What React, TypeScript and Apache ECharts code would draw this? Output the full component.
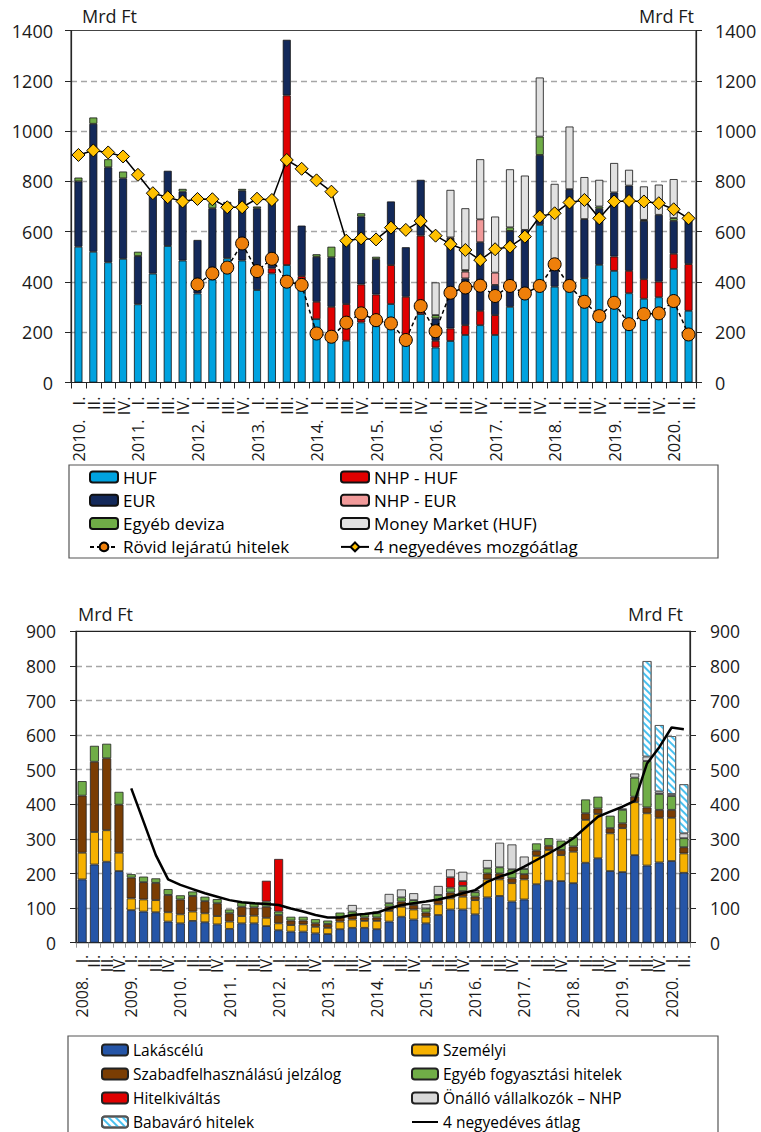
import React, { useEffect, useRef } from "react";
import * as echarts from "echarts";

const FONT = "'Open Sans', 'Noto Sans', sans-serif";
const QUARTERS = ["I.", "II.", "III.", "IV."];

function quarterLabels(count: number): string[] {
  const out: string[] = [];
  for (let i = 0; i < count; i++) out.push(QUARTERS[i % 4]);
  return out;
}
function yearLabels(startYear: number, count: number): string[] {
  const out: string[] = [];
  for (let i = 0; i < count; i++) out.push(i % 4 === 0 ? `${startYear + i / 4}.` : "");
  return out;
}

// ---------- Top chart (2010 I. – 2020 II.) ----------
const topCategories = quarterLabels(42);
const topYears = yearLabels(2010, 42);
const topHUF = [540, 520, 478, 492, 311, 433, 543, 485, 354, 410, 494, 485, 368, 434, 467, 410, 252, 162, 166, 239, 224, 312, 175, 272, 139, 165, 189, 228, 189, 301, 340, 627, 381, 395, 415, 468, 444, 355, 333, 339, 452, 285];
const topNHPHUF = [0, 0, 0, 0, 0, 0, 0, 0, 0, 0, 0, 0, 0, 20, 675, 13, 69, 139, 146, 151, 126, 155, 166, 312, 27, 50, 39, 57, 79, 0, 0, 0, 0, 0, 0, 0, 57, 89, 78, 62, 60, 186];
const topEUR = [260, 509, 378, 320, 192, 313, 299, 274, 213, 283, 224, 278, 325, 272, 221, 201, 179, 197, 244, 270, 141, 253, 197, 222, 89, 356, 186, 273, 120, 302, 267, 278, 109, 374, 235, 223, 255, 339, 232, 266, 131, 176];
const topNHPEUR = [0, 0, 0, 0, 0, 0, 0, 0, 0, 0, 0, 0, 0, 0, 0, 0, 0, 0, 0, 0, 0, 0, 0, 0, 0, 6, 27, 91, 49, 0, 0, 0, 0, 0, 0, 0, 0, 0, 0, 0, 0, 0];
const topOtherFX = [15, 25, 32, 27, 17, 0, 0, 11, 0, 20, 0, 7, 7, 0, 0, 0, 10, 42, 0, 13, 9, 0, 0, 0, 13, 0, 6, 0, 0, 14, 0, 73, 0, 0, 0, 9, 0, 0, 4, 0, 11, 0];
const topMoneyMarket = [0, 0, 0, 0, 0, 0, 0, 0, 0, 0, 0, 0, 0, 0, 0, 0, 0, 0, 0, 0, 0, 0, 0, 0, 130, 189, 246, 239, 223, 231, 216, 235, 300, 249, 167, 106, 117, 63, 133, 120, 155, 0];
const topShortTerm = [null, null, null, null, null, null, null, null, 390, 434, 457, 553, 443, 492, 401, 388, 195, 182, 238, 275, 248, 235, 169, 304, 204, 357, 378, 385, 344, 384, 354, 384, 470, 384, 321, 264, 317, 232, 272, 275, 324, 191];
const topMovingAvg = [905, 923, 915, 899, 826, 753, 737, 720, 730, 729, 697, 697, 731, 726, 885, 850, 804, 759, 564, 573, 569, 616, 607, 642, 584, 550, 527, 487, 530, 540, 580, 660, 673, 716, 726, 653, 720, 722, 720, 713, 689, 653];

// ---------- Bottom chart (2008 I. – 2020 II.) ----------
const botCategories = quarterLabels(50);
const botYears = yearLabels(2008, 50);
const botHousing = [183, 226, 234, 207, 94, 90, 88, 61, 56, 63, 59, 53, 40, 56, 56, 48, 36, 32, 32, 27, 25, 39, 43, 43, 39, 61, 75, 67, 56, 80, 96, 96, 82, 131, 135, 119, 125, 169, 179, 178, 172, 231, 244, 207, 204, 253, 223, 232, 236, 202];
const botPersonal = [77, 94, 91, 53, 34, 35, 35, 27, 26, 27, 26, 24, 21, 21, 22, 24, 20, 19, 21, 19, 18, 22, 24, 20, 24, 31, 29, 29, 19, 31, 32, 37, 41, 52, 48, 53, 58, 82, 89, 75, 91, 124, 128, 109, 127, 153, 151, 129, 125, 56];
const botFreeMortgage = [165, 203, 208, 139, 60, 50, 50, 50, 43, 45, 35, 37, 24, 27, 24, 32, 24, 13, 11, 10, 11, 14, 13, 10, 10, 12, 15, 13, 12, 12, 17, 16, 10, 17, 17, 14, 15, 15, 12, 15, 15, 19, 16, 15, 14, 16, 17, 23, 23, 18];
const botOtherConsumer = [42, 46, 42, 37, 10, 16, 13, 17, 12, 13, 13, 12, 11, 13, 12, 15, 10, 11, 11, 12, 10, 12, 10, 12, 12, 10, 12, 14, 12, 15, 14, 15, 13, 15, 18, 26, 15, 21, 22, 27, 27, 40, 34, 36, 39, 55, 134, 46, 40, 26];
const botRefinancing = [0, 0, 0, 0, 0, 0, 0, 0, 0, 0, 0, 0, 0, 0, 0, 60, 152, 0, 0, 0, 0, 0, 0, 0, 0, 0, 0, 0, 0, 0, 30, 14, 0, 0, 0, 0, 0, 0, 0, 0, 0, 0, 0, 0, 0, 0, 0, 0, 0, 0];
const botSoleProp = [0, 0, 0, 0, 0, 0, 0, 0, 0, 0, 0, 0, 0, 0, 0, 0, 0, 0, 0, 0, 0, 0, 19, 0, 5, 27, 23, 20, 12, 26, 23, 27, 6, 24, 71, 72, 36, 0, 0, 0, 0, 0, 0, 0, 4, 12, 13, 7, 6, 14];
const botBabyLoan = [0, 0, 0, 0, 0, 0, 0, 0, 0, 0, 0, 0, 0, 0, 0, 0, 0, 0, 0, 0, 0, 0, 0, 0, 0, 0, 0, 0, 0, 0, 0, 0, 0, 0, 0, 0, 0, 0, 0, 0, 0, 0, 0, 0, 0, 0, 276, 192, 167, 142];
const botAvg4 = [null, null, null, null, 446, 350, 253, 183, 167, 155, 143, 133, 123, 117, 114, 112, 109, 99, 90, 80, 73, 73, 80, 83, 87, 99, 109, 114, 119, 125, 133, 143, 152, 176, 191, 202, 220, 239, 258, 278, 302, 333, 364, 379, 393, 410, 518, 565, 622, 617];

const topTicks = [0, 1400, 200];
const botTicks = [0, 900, 100];

const nz = (arr: number[]) => arr.map((v) => (v === 0 ? "-" : v));

export default function App() {
  const ref = useRef<HTMLDivElement>(null);
  useEffect(() => {
    if (!ref.current) return;
    const chart = echarts.init(ref.current, null, { renderer: "svg" });
    const gridGray = "#A6A6A6";
    const splitColorsTop = ["transparent", gridGray, gridGray, gridGray, gridGray, gridGray, gridGray, "transparent"];
    const splitColorsBot = ["transparent", gridGray, gridGray, gridGray, gridGray, gridGray, gridGray, gridGray, gridGray, "transparent"];

    const yAxisBase = (gridIndex: number, ticks: number[], pos: "left" | "right", fs: number, margin: number, splitColors: string[], showSplit: boolean) => ({
      type: "value",
      gridIndex,
      position: pos,
      min: ticks[0],
      max: ticks[1],
      interval: ticks[2],
      axisLine: { show: true, lineStyle: { color: "#262626", width: 1.2 } },
      axisTick: { show: true, length: 6, inside: false, lineStyle: { color: "#262626" } },
      axisLabel: { fontSize: fs, color: "#1a1a1a", fontFamily: FONT, margin, formatter: (v: number) => String(v) },
      splitLine: showSplit ? { show: true, lineStyle: { color: splitColors, type: [6, 4], width: 1.3 } } : { show: false },
    });

    const quarterAxis = (gridIndex: number, data: string[], fs: number, margin: number, tickColor: string, tickLen: number) => ({
      type: "category", gridIndex, data, boundaryGap: true, position: "bottom",
      axisLine: { lineStyle: { color: "#262626", width: 1.2 } },
      axisTick: { show: true, length: tickLen, interval: 0, alignWithLabel: false, lineStyle: { color: tickColor } },
      axisLabel: { interval: 0, rotate: 90, fontSize: fs, color: "#1a1a1a", fontFamily: FONT, margin },
    });
    const yearAxis = (gridIndex: number, data: string[], fs: number, margin: number) => ({
      type: "category", gridIndex, data, boundaryGap: true, position: "bottom",
      axisLine: { show: false }, axisTick: { show: false },
      axisLabel: { interval: 0, rotate: 90, fontSize: fs, color: "#1a1a1a", fontFamily: FONT, margin },
    });

    const barStyleTop = (color: string) => ({ color, borderColor: "#111", borderWidth: 0.8 });
    const barStyleBot = (color: string) => ({ color, borderColor: "#222", borderWidth: 0.8 });

    const topBar = (name: string, data: number[], color: string, extra: any = {}) => ({
      name, type: "bar", stack: "top", xAxisIndex: 0, yAxisIndex: 0, barWidth: 8,
      data: nz(data), itemStyle: { ...barStyleTop(color), ...extra },
    });
    const botBar = (name: string, data: number[], color: string, extra: any = {}) => ({
      name, type: "bar", stack: "bot", xAxisIndex: 2, yAxisIndex: 2, barWidth: 9,
      data: nz(data), itemStyle: { ...barStyleBot(color), ...extra },
    });

    const legendCommon = (fs: number, lh: number, iw: number) => ({
      orient: "vertical",
      padding: 0,
      itemWidth: iw,
      itemHeight: 11,
      selectedMode: false,
      textStyle: { fontSize: fs, color: "#000", fontFamily: FONT, lineHeight: lh },
    });

    chart.setOption({
      animation: false,
      grid: [
        { left: 71, top: 30.5, width: 625, height: 352, show: true, borderColor: "#444", borderWidth: 1.2, containLabel: false },
        { left: 76, top: 631.3, width: 614, height: 311.4, show: true, borderColor: "#222", borderWidth: 1.2, containLabel: false },
      ],
      xAxis: [
        quarterAxis(0, topCategories, 16.5, 14, "#262626", 6),
        yearAxis(0, topYears, 16.5, 37),
        quarterAxis(1, botCategories, 16, 12, "#999", 5),
        yearAxis(1, botYears, 16, 34),
      ],
      yAxis: [
        yAxisBase(0, topTicks, "left", 18, 18, splitColorsTop, true),
        yAxisBase(0, topTicks, "right", 18, 19, splitColorsTop, false),
        yAxisBase(1, botTicks, "left", 17.5, 20, splitColorsBot, true),
        yAxisBase(1, botTicks, "right", 17.5, 20, splitColorsBot, false),
      ],
      legend: [
        { ...legendCommon(17, 17, 28), left: 89, top: 468.5, itemGap: 6.3, data: ["HUF", "EUR", "Egyéb deviza", "Rövid lejáratú hitelek"] },
        { ...legendCommon(17, 17, 28), left: 340, top: 468.5, itemGap: 6.3, data: ["NHP - HUF", "NHP - EUR", "Money Market (HUF)", "4 negyedéves mozgóátlag"] },
        { ...legendCommon(15.5, 17, 26), left: 101, top: 1041.5, itemGap: 7, data: ["Lakáscélú", "Szabadfelhasználású jelzálog", "Hitelkiváltás", "Babaváró hitelek"] },
        {
          ...legendCommon(15.5, 17, 26), left: 411, top: 1041.5, itemGap: 7,
          data: ["Személyi", "Egyéb fogyasztási hitelek", "Önálló vállalkozók – NHP", { name: "4 negyedéves átlag", itemStyle: { color: "transparent", borderWidth: 0 } }],
        },
      ],
      graphic: [
        { type: "text", left: 82, top: 7, style: { text: "Mrd Ft", fontSize: 18, fontFamily: FONT, fill: "#1a1a1a" } },
        { type: "text", right: 67, top: 7, style: { text: "Mrd Ft", fontSize: 18, fontFamily: FONT, fill: "#1a1a1a" } },
        { type: "text", left: 78, top: 605, style: { text: "Mrd Ft", fontSize: 18, fontFamily: FONT, fill: "#1a1a1a" } },
        { type: "text", right: 78, top: 605, style: { text: "Mrd Ft", fontSize: 18, fontFamily: FONT, fill: "#1a1a1a" } },
        { type: "rect", shape: { x: 69, y: 465, width: 649, height: 93 }, style: { fill: "none", stroke: "#555", lineWidth: 1.2 }, z: -1 },
        { type: "rect", shape: { x: 68, y: 1036, width: 650, height: 110 }, style: { fill: "none", stroke: "#555", lineWidth: 1.2 }, z: -1 },
      ],
      series: [
        topBar("HUF", topHUF, "#00A2DF"),
        topBar("NHP - HUF", topNHPHUF, "#E00000"),
        topBar("EUR", topEUR, "#13295A"),
        topBar("NHP - EUR", topNHPEUR, "#F19A9A"),
        topBar("Egyéb deviza", topOtherFX, "#70AD47"),
        topBar("Money Market (HUF)", topMoneyMarket, "#E1E1E1"),
        {
          name: "Rövid lejáratú hitelek", type: "line", xAxisIndex: 0, yAxisIndex: 0, data: topShortTerm,
          symbol: "circle", symbolSize: 13, z: 5,
          lineStyle: { color: "#000", width: 1.5, type: [4, 3] },
          itemStyle: { color: "#EE7F0A", borderColor: "#000", borderWidth: 1 },
        },
        {
          name: "4 negyedéves mozgóátlag", type: "line", xAxisIndex: 0, yAxisIndex: 0, data: topMovingAvg,
          symbol: "diamond", symbolSize: 13, z: 6,
          lineStyle: { color: "#000", width: 1.5 },
          itemStyle: { color: "#FFC000", borderColor: "#000", borderWidth: 1 },
        },
        botBar("Lakáscélú", botHousing, "#2555A7"),
        botBar("Személyi", botPersonal, "#F6B100"),
        botBar("Szabadfelhasználású jelzálog", botFreeMortgage, "#7A3D03"),
        botBar("Egyéb fogyasztási hitelek", botOtherConsumer, "#70AD47"),
        botBar("Hitelkiváltás", botRefinancing, "#E00000"),
        botBar("Önálló vállalkozók – NHP", botSoleProp, "#D9D9D9"),
        botBar("Babaváró hitelek", botBabyLoan, "#FFFFFF", {
          borderColor: "#555",
          decal: { symbol: "rect", symbolSize: 1, color: "#49C1F0", dashArrayX: [1, 0], dashArrayY: [2, 2.5], rotation: Math.PI / 4 },
        }),
        {
          name: "4 negyedéves átlag", type: "line", xAxisIndex: 2, yAxisIndex: 2, data: botAvg4,
          symbol: "none", z: 5,
          lineStyle: { color: "#000", width: 2.5 },
          itemStyle: { color: "#000" },
        },
      ],
    });
    return () => chart.dispose();
  }, []);
  return <div ref={ref} style={{ position: "absolute", left: 0, top: 0, width: 761, height: 1132 }} />;
}
